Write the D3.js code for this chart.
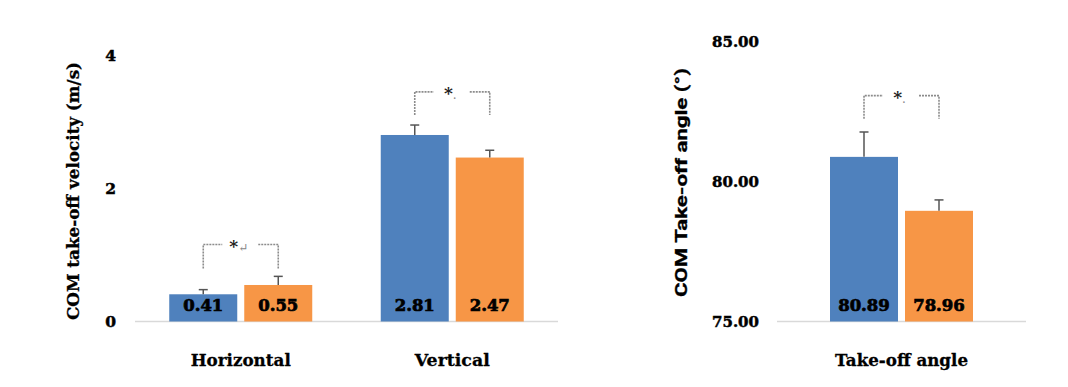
<!DOCTYPE html>
<html><head><meta charset="utf-8">
<script src="https://cdn.jsdelivr.net/npm/d3@7"></script>
<style>body{margin:0;background:#fff}svg{display:block}</style>
</head><body>
<script>
// ---- data ----
const series = ["Group A", "Group B"];
const colors = ["#4F81BD", "#F79646"];
const velCategories = ["Horizontal", "Vertical"];
const velMeans = [[0.41, 0.55], [2.81, 2.47]];
const velErrTop = [[0.48, 0.68], [2.96, 2.58]];
const velTicks = [0, 2, 4];
const velLabels = ["0", "2", "4"];
const velBracket = [[0.80, 1.16], [3.11, 3.46]]; // [leg bottom, top]
const velSig = ["*\u21B5", "*."];
const angCategories = ["Take-off angle"];
const angMeans = [[80.89, 78.96]];
const angErrTop = [[81.78, 79.35]];
const angTicks = [75, 80, 85];
const angLabels = ["75.00", "80.00", "85.00"];
const angBracket = [[82.25, 83.08]];
const angSig = ["*."];

const W = 1068, H = 387;
const svg = d3.select("body").append("svg").attr("width", W).attr("height", H);
const serif = "'DejaVu Serif', serif";

function heavy(sel, w) {
  return sel.attr("stroke", "#000").attr("stroke-width", w).attr("paint-order", "stroke");
}

function panel(opt) {
  const g = svg.append("g");
  const y = d3.scaleLinear().domain(opt.domain).range([321.5, opt.topY]);
  const x = d3.scaleBand().domain(opt.cats).range(opt.xr);
  const step = x.bandwidth();
  const inner = d3.scaleBand().domain(series)
      .range([(step - 143) / 2, (step + 143) / 2]).paddingInner(7 / 75);
  // axis line
  g.append("line").attr("x1", opt.xr[0]).attr("x2", opt.xr[1])
    .attr("y1", y(opt.domain[0])).attr("y2", y(opt.domain[0]))
    .attr("stroke", "#d9d9d9").attr("stroke-width", 1.5);
  // y ticks
  const ax = d3.axisLeft(y).tickValues(opt.ticks).tickSize(0).tickPadding(0)
      .tickFormat((d, i) => opt.tickLabels[i]);
  const axg = g.append("g").attr("transform", `translate(${opt.tickX},0)`).call(ax);
  axg.select(".domain").remove();
  heavy(axg.selectAll("text").attr("font-family", serif).attr("font-weight", "bold")
    .attr("font-size", 15.5).attr("fill", "#000").attr("textLength", opt.tickLen)
    .attr("lengthAdjust", "spacingAndGlyphs"), 0.5);
  // title
  heavy(g.append("text").attr("transform", `translate(${opt.titleX},${opt.titleY}) rotate(-90)`)
    .attr("text-anchor", "middle").attr("dominant-baseline", "central")
    .attr("font-family", opt.titleFont).attr("font-weight", "bold").attr("font-size", opt.titleSize)
    .attr("textLength", opt.titleLen).attr("lengthAdjust", "spacingAndGlyphs")
    .attr("fill", "#000").text(opt.title), 0.3);
  opt.cats.forEach((c, ci) => {
    const gx = x(c);
    series.forEach((s, si) => {
      const bx = gx + inner(s), bw = inner.bandwidth();
      const v = opt.means[ci][si], e = opt.err[ci][si];
      g.append("rect").attr("x", bx).attr("width", bw)
        .attr("y", y(v)).attr("height", y(opt.domain[0]) - y(v)).attr("fill", colors[si]);
      const cx = bx + bw / 2;
      g.append("line").attr("x1", cx).attr("x2", cx).attr("y1", y(v)).attr("y2", y(e))
        .attr("stroke", "#555").attr("stroke-width", 1.5);
      g.append("line").attr("x1", cx - 4.5).attr("x2", cx + 4.5).attr("y1", y(e)).attr("y2", y(e))
        .attr("stroke", "#555").attr("stroke-width", 1.5);
      heavy(g.append("text").attr("x", cx).attr("y", 310.5).attr("text-anchor", "middle")
        .attr("font-family", serif).attr("font-weight", "bold").attr("font-size", 16.5)
        .attr("fill", "#000").text(v.toFixed(2)), 0.7);
    });
    // bracket
    const lx = gx + inner(series[0]) + inner.bandwidth() / 2;
    const rx = gx + inner(series[1]) + inner.bandwidth() / 2;
    const yb = y(opt.bracket[ci][0]), yt = y(opt.bracket[ci][1]);
    const bs = { stroke: "#8c8c8c", "stroke-width": 1.6, "stroke-dasharray": "2,1", fill: "none" };
    const p1 = g.append("path").attr("d", `M${lx},${yb}V${yt}H${lx + 19}`);
    const p2 = g.append("path").attr("d", `M${rx - 20},${yt}H${rx}V${yb}`);
    [p1, p2].forEach(p => Object.entries(bs).forEach(([k, v]) => p.attr(k, v)));
    const mid = (lx + rx) / 2;
    const t = g.append("text").attr("x", mid - 2).attr("y", yt + 7)
      .attr("font-family", serif).attr("font-size", 17).attr("text-anchor", "middle");
    t.append("tspan").attr("fill", "#222").attr("font-weight", "bold").text(opt.sig[ci][0]);
    t.append("tspan").attr("fill", "#888").attr("font-size", 12).text(opt.sig[ci].slice(1));
    // category label
    heavy(g.append("text").attr("x", gx + step / 2).attr("y", 366).attr("text-anchor", "middle")
      .attr("font-family", serif).attr("font-weight", "bold").attr("font-size", 17.5)
      .attr("textLength", opt.catLen[ci]).attr("lengthAdjust", "spacingAndGlyphs")
      .attr("fill", "#000").text(c), 0.3);
  });
}

panel({ domain: [0, 4], topY: 56, cats: velCategories, xr: [135, 558], means: velMeans,
  err: velErrTop, ticks: velTicks, tickLabels: velLabels, tickLen: null, tickX: 116, bracket: velBracket, sig: velSig,
  title: "COM take-off velocity (m/s)", titleX: 73, titleY: 191, titleLen: 258, titleSize: 16,
  titleFont: serif, catLen: [100, 75] });
panel({ domain: [75, 85], topY: 42, cats: angCategories, xr: [777, 1026], means: angMeans,
  err: angErrTop, ticks: angTicks, tickLabels: angLabels, tickLen: 47, tickX: 759, bracket: angBracket, sig: angSig,
  title: "COM Take-off angle (°)", titleX: 681, titleY: 182.5, titleLen: 229, titleSize: 16,
  titleFont: "Roboto, sans-serif", catLen: [133] });
</script>
</body></html>
